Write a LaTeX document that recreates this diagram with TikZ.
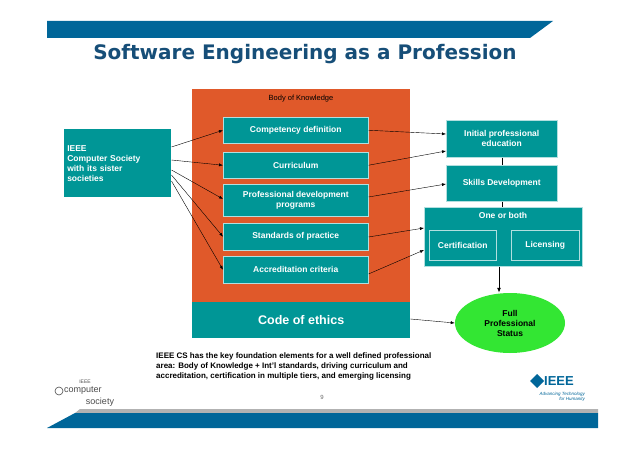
\documentclass[tikz,border=0pt]{standalone}
\usepackage{fontspec}
\setmainfont{Liberation Sans}
\newfontfamily\titlefont{DejaVu Sans}
\usetikzlibrary{shapes.geometric,arrows.meta}
\definecolor{teal1}{RGB}{0,150,150}
\definecolor{orng}{RGB}{224,89,42}
\definecolor{grn}{RGB}{51,230,51}
\definecolor{ttl}{RGB}{22,78,120}
\definecolor{barb}{RGB}{0,102,153}
\tikzset{
 tbox/.style={draw=white!70!teal1,line width=0.5pt,fill=teal1,text=white,font=\fontsize{8.5}{10}\selectfont\bfseries,align=center,inner sep=1pt},
 arr/.style={-{Latex[length=4pt,width=3pt]},line width=0.4pt},
}
\begin{document}
\begin{tikzpicture}[x=1pt,y=-1pt]
\useasboundingbox[fill=white] (0,0) rectangle (638,452);
% top bar
\fill[barb] (47,21) -- (553,21) -- (530,38) -- (47,38) -- cycle;
\node (title) at (305,54) {\titlefont\fontsize{20}{24}\selectfont\bfseries\color{ttl}Software Engineering as a Profession};
% bottom bars
\fill[black!30] (80,409) -- (598,409) -- (598,413) -- (75,413) -- cycle;
\fill[barb] (75,413) -- (598,413) -- (598,428) -- (47,428) -- cycle;
% orange
\node[fill=orng,minimum width=218,minimum height=213,anchor=north west,inner sep=0] (bok) at (192,89) {};
\node[font=\fontsize{7.5}{9}\selectfont,anchor=north] (bokl) at (301,92) {Body of Knowledge};
\node[tbox,minimum width=145,minimum height=26,anchor=north west] (comp) at (223,117) {Competency definition};
\node[tbox,minimum width=145,minimum height=26,anchor=north west] (curr) at (223,152) {Curriculum};
\node[tbox,minimum width=145,minimum height=32,anchor=north west] (prof) at (223,184) {Professional development\\programs};
\node[tbox,minimum width=145,minimum height=27,anchor=north west] (stan) at (223,223) {Standards of practice};
\node[tbox,minimum width=145,minimum height=27,anchor=north west] (accr) at (223,256) {Accreditation criteria};
\node[fill=teal1,text=white,font=\fontsize{12.5}{14}\selectfont\bfseries,minimum width=218,minimum height=36,anchor=north west,inner sep=0] (code) at (192,302) {Code of ethics};
\node[tbox,minimum width=107,minimum height=68,anchor=north west,align=left,text width=101,draw=none] (ieee) at (64,129) {IEEE\\Computer Society\\with its sister\\societies};
% right
\node[tbox,minimum width=111,minimum height=37,anchor=north west] (init) at (446,120) {Initial professional\\education};
\node[tbox,minimum width=111,minimum height=36,anchor=north west] (skil) at (446,165) {Skills Development};
\node[tbox,minimum width=158,minimum height=59,anchor=north west] (both) at (424,207) {};
\node[text=white,font=\fontsize{8.5}{10}\selectfont\bfseries,anchor=north] (bothl) at (503,209) {One or both};
\node[tbox,minimum width=67,minimum height=30,anchor=north west] (cert) at (429,230) {Certification};
\node[tbox,minimum width=68,minimum height=30,anchor=north west] (lic) at (511,230) {Licensing};
\node[ellipse,fill=grn,minimum width=110,minimum height=60,inner sep=0,font=\fontsize{8.5}{10}\selectfont\bfseries,align=center] (full) at (510,323) {Full\\Professional\\Status};
% arrows from IEEE
\draw[arr] (ieee.east|-0,147) -- (comp.west);
\draw[arr] (ieee.east|-0,160) -- (curr.west);
\draw[arr] (ieee.east|-0,170) -- (prof.west|-0,199);
\draw[arr] (ieee.east|-0,175) -- (stan.west);
\draw[arr] (ieee.east|-0,181) -- (accr.west);
% to right
\draw[arr] (comp.east) -- (init.west|-0,134);
\draw[arr] (curr.east) -- (init.west|-0,151);
\draw[arr] (prof.east|-0,197) -- (skil.west|-0,184);
\draw[arr] (stan.east|-0,237) -- (both.west|-0,228);
\draw[arr] (accr.east|-0,274) -- (both.west|-0,250);
\draw[arr] (code.east|-0,319) -- (full.west|-0,323);
\draw[line width=1pt] (init.south-|502,0) -- (skil.north-|502,0);
\draw[line width=1pt] (skil.south-|502,0) -- (both.north-|502,0);
\draw[-{Latex[length=5pt,width=4pt]},line width=1pt] (both.south-|499,0) -- (full.north-|499,0);
% footer text
\node[font=\fontsize{8}{10}\selectfont\bfseries,align=left,anchor=north west,inner sep=0] (foot) at (156,353) {IEEE CS has the key foundation elements for a well defined professional\\area: Body of Knowledge + Int'l standards, driving curriculum and\\accreditation, certification in multiple tiers, and emerging licensing};
\node[font=\fontsize{6}{7}\selectfont,text=black!60] (pg) at (322,397) {9};
\node[font=\fontsize{5}{5}\selectfont,text=black!70] (l1) at (85,382) {IEEE};
\draw[black!70,line width=0.6pt] (59,391) circle (4);
\node[font=\fontsize{9}{9}\selectfont,text=black!70,anchor=west,inner sep=0] (l2) at (64,391) {computer};
\node[font=\fontsize{9}{9}\selectfont,text=black!70] (l3) at (100,402) {society};
\fill[barb] (530,381) -- (537,374) -- (544,381) -- (537,388) -- cycle;
\node[font=\fontsize{13}{13}\selectfont\bfseries,text=barb,anchor=west,inner sep=0] (l4) at (544,381) {IEEE};
\node[font=\fontsize{4.5}{5}\selectfont\itshape,text=barb,align=right,anchor=north east,inner sep=0] (l5) at (585,392) {Advancing Technology\\for Humanity};
\end{tikzpicture}
\end{document}
